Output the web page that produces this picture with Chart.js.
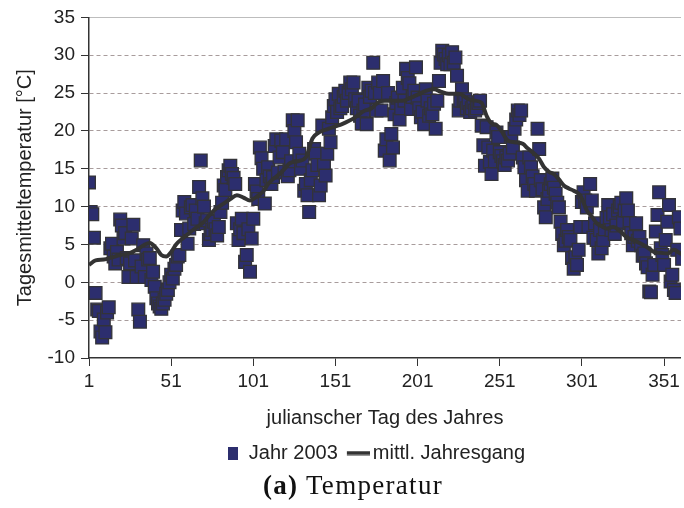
<!DOCTYPE html>
<html>
<head>
<meta charset="utf-8">
<script src="https://cdn.jsdelivr.net/npm/chart.js@4.4.1/dist/chart.umd.min.js"></script>
<style>
  html, body { margin: 0; padding: 0; background: #fff; overflow: hidden; }
  #wrap { position: relative; width: 684px; height: 508px; }
  #caption {
    position: absolute; left: 263px; top: 470px;
    font-family: "Liberation Serif", serif; font-size: 27px;
    letter-spacing: 1.3px; color: #111; white-space: nowrap;
  }
</style>
</head>
<body>
<div id="wrap">
  <canvas id="chart" width="684" height="508"></canvas>
  <div id="caption"><b>(a)</b> Temperatur</div>
</div>
<script>
// Tagesmittel 2003, Tag 1..365
const jahr2003 = [
  13.2, 9.3, 9.0, 5.9, -1.4, -3.6, -3.8, -6.5, -7.3, -4.9,
  -6.6, -4.0, -3.3, 4.5, 5.1, 3.4, 2.5, 4.0, 3.0, 8.3,
  7.5, 5.8, 6.5, 3.2, 0.7, 2.5, 5.8, 7.6, 2.9, 0.7,
  -3.6, -5.2, 2.1, 4.9, 0.7, 3.8, 3.0, 3.2, 0.3, 1.4,
  -0.6, -2.1, -2.8, -3.2, -3.5, -2.8, -2.3, -1.5, -1.0, 0.0,
  1.0, 0.5, 1.8, 2.3, 3.4, 3.6, 6.9, 9.5, 10.6, 9.1,
  5.1, 7.1, 9.9, 10.2, 7.7, 9.5, 8.4, 12.6, 16.1, 11.1,
  10.0, 7.8, 8.2, 5.6, 6.4, 6.9, 8.0, 7.0, 6.2, 7.3,
  9.3, 10.5, 12.8, 12.2, 13.9, 14.8, 15.4, 14.3, 13.8, 13.0,
  7.8, 5.6, 7.0, 8.4, 6.5, 2.7, 3.6, 7.0, 1.4, 5.8,
  8.4, 13.0, 12.0, 11.0, 17.8, 16.4, 15.0, 10.4, 13.5, 15.2,
  14.0, 13.0, 13.9, 18.0, 18.9, 14.5, 16.5, 18.7, 17.2, 14.6,
  18.9, 14.0, 14.8, 16.0, 21.4, 20.0, 18.5, 21.4, 17.0, 15.0,
  16.1, 12.1, 13.0, 11.5, 9.3, 13.5, 14.8, 17.6, 17.0, 15.5,
  11.5, 12.8, 20.7, 15.5, 14.1, 17.0, 20.3, 18.5, 21.8, 23.3,
  24.2, 22.5, 24.9, 23.0, 23.3, 24.5, 25.3, 24.0, 25.0, 26.4,
  25.5, 26.4, 24.2, 23.0, 24.0, 22.0, 21.0, 22.7, 23.5, 20.9,
  25.7, 24.5, 25.3, 29.0, 25.0, 22.7, 26.4, 25.0, 22.7, 26.6,
  17.4, 18.9, 25.0, 16.1, 19.6, 17.8, 22.2, 23.7, 24.4, 21.5,
  23.0, 25.7, 24.0, 28.2, 27.0, 26.3, 22.9, 24.5, 25.3, 28.4,
  24.4, 23.0, 21.8, 22.5, 20.9, 25.5, 24.0, 22.0, 23.0, 22.2,
  23.6, 20.3, 24.0, 26.6, 29.0, 30.6, 30.1, 29.5, 28.8, 30.0,
  28.8, 30.4, 29.0, 29.7, 27.3, 22.7, 24.0, 25.5, 24.0, 24.2,
  23.0, 23.7, 22.5, 23.0, 23.8, 22.7, 23.0, 23.7, 24.0, 20.7,
  18.1, 15.4, 20.5, 17.8, 15.9, 14.3, 17.4, 16.0, 19.8, 19.2,
  17.2, 16.7, 16.0, 15.5, 16.5, 16.1, 17.0, 19.2, 17.8, 20.3,
  21.5, 22.7, 22.1, 22.7, 16.5, 15.2, 13.5, 12.1, 16.5, 15.2,
  14.0, 13.0, 12.1, 20.3, 17.6, 13.5, 12.3, 9.9, 8.6, 11.0,
  12.1, 13.0, 13.7, 12.5, 11.7, 10.5, 9.9, 8.0, 6.4, 4.9,
  5.5, 6.9, 6.0, 5.6, 3.2, 1.8, 3.3, 2.3, 4.3, 7.3,
  10.6, 11.9, 10.8, 9.9, 7.3, 13.0, 10.8, 5.9, 7.8, 5.6,
  3.8, 6.9, 4.5, 5.6, 7.0, 8.5, 10.2, 8.6, 6.9, 9.0,
  6.4, 7.5, 9.5, 10.0, 10.5, 8.0, 9.5, 11.1, 9.5, 7.8,
  6.5, 4.9, 6.0, 7.8, 5.5, 6.0, 4.9, 3.5, 3.8, 2.5,
  2.0, -1.2, -1.3, 1.0, 2.3, 6.7, 8.9, 11.9, 4.5, 3.6,
  2.3, 5.6, 8.0, 10.2, 0.1, 1.0, -1.0, -1.4, 4.3, 8.6,
  7.1, 3.1, 5.0, 6.0, 4.0
];

// mittlerer Jahresgang (Stützstellen)
const mittelTage = [1, 5, 10, 15, 20, 25, 30, 35, 38, 42, 45, 48, 51, 54, 58, 62, 66, 70, 74, 77,
  80, 83, 87, 91, 95, 99, 103, 107, 110, 114, 117, 120, 123, 128, 133, 137, 141, 147, 151, 155,
  159, 163, 166, 169, 173, 177, 181, 187, 192, 197, 201, 206, 211, 215, 220, 226, 232, 236, 240, 243,
  246, 249, 252, 256, 260, 265, 268, 272, 275, 278, 281, 284, 287, 290, 293, 296, 300, 304, 307, 310,
  313, 316, 320, 324, 328, 332, 337, 341, 345, 349, 353, 357, 361, 365];
const mittelTemp = [2.3, 2.9, 3.0, 3.3, 3.6, 3.8, 4.3, 5.0, 5.2, 4.5, 3.6, 3.4, 4.0, 5.0, 5.8, 6.5, 7.2, 7.8, 8.8, 9.5,
  10.0, 10.4, 11.0, 11.5, 11.2, 10.8, 11.3, 12.0, 13.0, 13.8, 14.3, 15.0, 15.7, 16.0, 16.5, 19.0, 19.8, 20.3, 20.6, 20.9,
  21.3, 21.8, 22.3, 22.7, 23.0, 23.8, 24.0, 24.0, 24.0, 24.4, 24.8, 25.3, 25.5, 25.2, 24.9, 24.9, 24.2, 24.0, 23.7, 22.0,
  21.0, 20.8, 20.0, 18.7, 18.5, 18.3, 17.7, 17.0, 16.3, 15.2, 14.6, 14.3, 13.6, 12.8, 12.4, 12.1, 11.5, 9.5, 8.7, 7.8,
  7.4, 7.1, 7.3, 6.8, 6.0, 5.6, 5.1, 4.6, 4.0, 3.9, 3.8, 4.3, 3.8, 3.5];

const xTicks = [1, 51, 101, 151, 201, 251, 301, 351];

const fillFarbe = "#2c2e6e";
const randFarbe = "#333338";
const linienFarbe = "#333333";

Chart.defaults.font.family = '"Liberation Sans", Arial, sans-serif';
Chart.defaults.color = "#222";

// Legendensymbole
const rectIcon = document.createElement("canvas");
rectIcon.width = 10; rectIcon.height = 13;
let g = rectIcon.getContext("2d");
g.fillStyle = fillFarbe; g.fillRect(0, 0, 10, 13);

const lineIcon = document.createElement("canvas");
lineIcon.width = 26; lineIcon.height = 5;
g = lineIcon.getContext("2d");
g.fillStyle = linienFarbe; g.fillRect(3, 0.5, 23, 4);

const shiftLegend = {
  id: "shiftLegend",
  afterLayout(chart) {
    chart.legend.left -= 9;
    chart.legend.right -= 9;
  }
};

new Chart(document.getElementById("chart"), {
  type: "scatter",
  data: {
    datasets: [
      {
        type: "scatter",
        label: "Jahr 2003",
        data: jahr2003.map((v, i) => ({ x: i + 1, y: v })),
        pointStyle: "rect",
        pointRadius: 9,
        pointBackgroundColor: fillFarbe,
        pointBorderColor: randFarbe,
        pointBorderWidth: 1.3,
        order: 1
      },
      {
        type: "line",
        label: "mittl. Jahresgang",
        data: mittelTage.map((d, i) => ({ x: d, y: mittelTemp[i] })),
        borderColor: linienFarbe,
        borderWidth: 4,
        pointRadius: 0,
        cubicInterpolationMode: "monotone",
        fill: false,
        order: 0
      }
    ]
  },
  options: {
    responsive: false,
    animation: false,
    layout: { autoPadding: false, padding: { top: 16, right: 0, bottom: 35, left: 0 } },
    scales: {
      x: {
        type: "linear",
        position: "bottom",
        min: 1,
        max: 361.3,
        afterBuildTicks: s => { s.ticks = xTicks.map(v => ({ value: v })); },
        afterFit: s => { s.height = 72; },
        grid: { drawOnChartArea: false, tickLength: 8, tickColor: "#333", color: "#333" },
        border: { color: "#333", width: 1.5 },
        ticks: { padding: 4, font: { size: 19 }, color: "#222", maxRotation: 0, autoSkip: false },
        title: {
          display: true,
          text: "julianscher Tag des Jahres",
          font: { size: 20 },
          color: "#222",
          padding: { top: 0, bottom: 0 }
        }
      },
      xTop: {
        type: "linear",
        position: "top",
        min: 1,
        max: 361.3,
        grid: { display: false, drawTicks: false },
        ticks: { display: false },
        border: { color: "#bdbdbd", width: 1 }
      },
      y: {
        min: -10,
        max: 35,
        afterFit: s => { s.width = 89; },
        ticks: { stepSize: 5, padding: 6, font: { size: 19 }, color: "#222" },
        grid: {
          color: c => (c.tick && (c.tick.value === 35 || c.tick.value === -10)) ? "rgba(0,0,0,0)" : "#a89c9c",
          lineWidth: 1,
          tickLength: 8,
          tickColor: "#333",
          tickBorderDash: []
        },
        border: { color: "#333", width: 1.5, dash: [4, 3] },
        title: {
          display: true,
          text: "Tagesmitteltemperatur [°C]",
          font: { size: 20 },
          color: "#222",
          padding: { top: 13, bottom: 0 }
        }
      }
    },
    plugins: {
      tooltip: { enabled: false },
      legend: {
        position: "bottom",
        fullSize: false,
        labels: {
          font: { size: 20 },
          color: "#222",
          usePointStyle: true,
          boxWidth: 12,
          boxHeight: 12,
          padding: 13,
          generateLabels: chart => [
            { text: chart.data.datasets[0].label, pointStyle: rectIcon, datasetIndex: 0, lineWidth: 0, fontColor: "#222" },
            { text: chart.data.datasets[1].label, pointStyle: lineIcon, datasetIndex: 1, lineWidth: 0, fontColor: "#222" }
          ]
        }
      }
    }
  },
  plugins: [shiftLegend]
});
</script>
</body>
</html>
